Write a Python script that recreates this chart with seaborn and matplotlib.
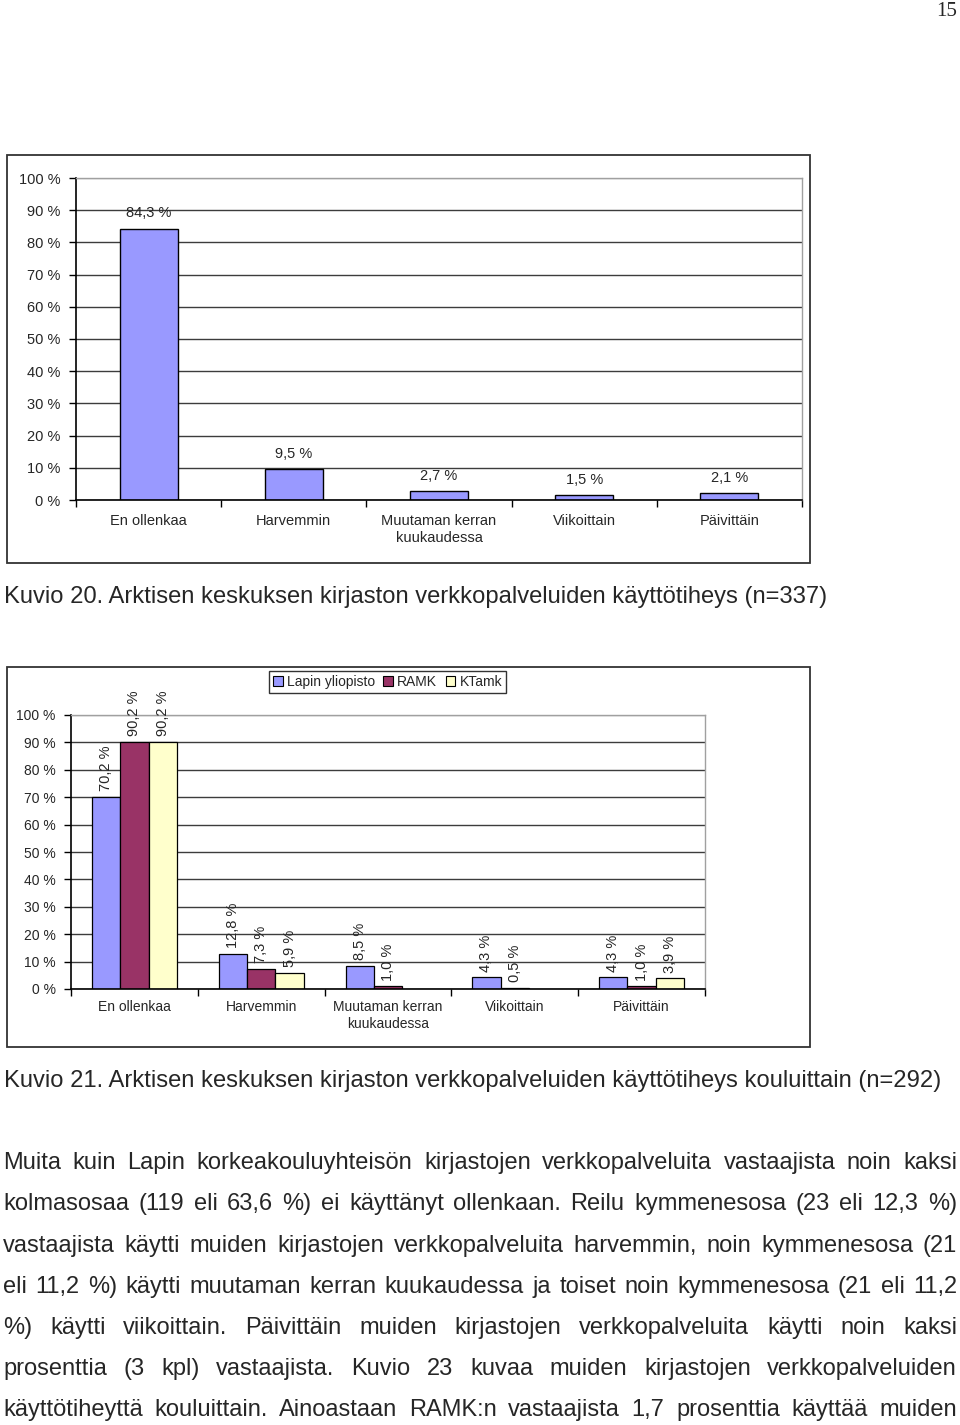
import numpy as np
import pandas as pd
import matplotlib
matplotlib.use("Agg")
import matplotlib.pyplot as plt
import seaborn as sns
from matplotlib.patches import Rectangle

W, H = 960, 1425

# Kuvio 20 - all respondents
freq_labels = ["En ollenkaa", "Harvemmin", "Muutaman kerran\nkuukaudessa", "Viikoittain", "Päivittäin"]
total_pct = [84.3, 9.5, 2.7, 1.5, 2.1]

# Kuvio 21 - by school
schools = ["Lapin yliopisto", "RAMK", "KTamk"]
lapin_pct = [70.2, 12.8, 8.5, 4.3, 4.3]
ramk_pct = [90.2, 7.3, 1.0, 0.5, 1.0]
ktamk_pct = [90.2, 5.9, np.nan, np.nan, 3.9]
school_colors = ["#9999FF", "#993366", "#FFFFCC"]

y_ticks = list(range(0, 101, 10))

caption_20 = "Kuvio 20. Arktisen keskuksen kirjaston verkkopalveluiden käyttötiheys (n=337)"
caption_21 = "Kuvio 21. Arktisen keskuksen kirjaston verkkopalveluiden käyttötiheys kouluittain (n=292)"
paragraph = [
    "Muita kuin Lapin korkeakouluyhteisön kirjastojen verkkopalveluita vastaajista noin kaksi",
    "kolmasosaa (119 eli 63,6 %) ei käyttänyt ollenkaan. Reilu kymmenesosa (23 eli 12,3 %)",
    "vastaajista käytti muiden kirjastojen verkkopalveluita harvemmin, noin kymmenesosa (21",
    "eli 11,2 %) käytti muutaman kerran kuukaudessa ja toiset noin kymmenesosa (21 eli 11,2",
    "%) käytti viikoittain. Päivittäin muiden kirjastojen verkkopalveluita käytti noin kaksi",
    "prosenttia (3 kpl) vastaajista.  Kuvio 23 kuvaa muiden kirjastojen verkkopalveluiden",
    "käyttötiheyttä kouluittain. Ainoastaan RAMK:n vastaajista 1,7 prosenttia käyttää muiden",
]


def fx(px):
    return px / W


def fy(py):
    return 1 - py / H


def pct(v):
    return f"{v:.1f}".replace(".", ",") + " %"


def style_axes(ax, fs, ypad, xpad):
    ax.set_ylim(0, 100)
    ax.set_yticks(y_ticks)
    ax.set_yticklabels([f"{t} %" for t in y_ticks], fontsize=fs)
    ax.set_xlim(-0.5, len(freq_labels) - 0.5)
    ax.set_xticks(range(len(freq_labels)))
    ax.set_xticklabels(freq_labels, fontsize=fs, linespacing=1.3)
    ax.set_xticks(np.arange(-0.5, len(freq_labels)), minor=True)
    ax.tick_params(axis="x", which="major", length=0, pad=xpad)
    ax.tick_params(axis="x", which="minor", length=5, width=1, color="black")
    ax.tick_params(axis="y", length=5, width=1, color="black", pad=ypad)
    ax.yaxis.grid(True, color="#3c3c3c", lw=1)
    ax.yaxis.get_gridlines()[-1].set_color("#a0a0a0")
    ax.set_axisbelow(True)
    for s in ["left", "bottom"]:
        ax.spines[s].set_color("black")
        ax.spines[s].set_linewidth(1.2)
    for s in ["top", "right"]:
        ax.spines[s].set_visible(True)
        ax.spines[s].set_color("#a0a0a0")
        ax.spines[s].set_linewidth(1)
    ax.set_xlabel("")
    ax.set_ylabel("")


def justify(fig, text, py, x0, x1, fs):
    # place words one by one so the line fills x0..x1 (justified)
    words = text.split()
    r = fig.canvas.get_renderer()
    objs = [fig.text(0, fy(py), w, fontsize=fs, va="baseline", ha="left") for w in words]
    widths = [o.get_window_extent(renderer=r).width for o in objs]
    gap = (x1 - x0 - sum(widths)) / (len(words) - 1)
    x = x0
    for o, w in zip(objs, widths):
        o.set_x(fx(x))
        x += w + gap


sns.set_theme(style="ticks")
plt.rcParams["font.family"] = ["Liberation Sans", "DejaVu Sans"]

fig = plt.figure(figsize=(W / 100, H / 100), dpi=100)
fig.patch.set_facecolor("white")

# --- Kuvio 20 ---
ax1 = fig.add_axes([fx(76), fy(500), fx(802) - fx(76), (500 - 178) / H])
df1 = pd.DataFrame({"kategoria": freq_labels, "osuus": total_pct})
sns.barplot(data=df1, x="kategoria", y="osuus", order=freq_labels, color="#9999FF",
            saturation=1, width=0.4, edgecolor="black", linewidth=1, ax=ax1)
style_axes(ax1, 10.5, 6, 10)
for c in ax1.containers:
    ax1.bar_label(c, labels=[pct(v) for v in c.datavalues], padding=6, fontsize=10.5)

# --- Kuvio 21 ---
ax2 = fig.add_axes([fx(71), fy(989), fx(705) - fx(71), (989 - 715) / H])
df2 = pd.DataFrame({
    "kategoria": freq_labels * 3,
    "koulu": np.repeat(schools, len(freq_labels)),
    "osuus": lapin_pct + ramk_pct + ktamk_pct,
}).dropna()
sns.barplot(data=df2, x="kategoria", y="osuus", hue="koulu", order=freq_labels,
            hue_order=schools, palette=school_colors, saturation=1, width=0.67,
            edgecolor="black", linewidth=0.9, errorbar=None, ax=ax2)
style_axes(ax2, 10, 6, 8)
for c in ax2.containers:
    ax2.bar_label(c, labels=[pct(v) for v in c.datavalues], padding=4,
                  fontsize=10.5, rotation=90)
sns.move_legend(ax2, loc="center", bbox_to_anchor=(fx(387.5), fy(682)),
                bbox_transform=fig.transFigure, ncol=3, title=None, frameon=True,
                fontsize=10, handlelength=0.7, handleheight=0.7, handletextpad=0.3,
                columnspacing=0.6, borderpad=0.3, fancybox=False)
leg = ax2.get_legend()
leg.get_frame().set_edgecolor("black")
leg.get_frame().set_linewidth(1)
for h in leg.legend_handles:
    h.set_edgecolor("black")
    h.set_linewidth(0.8)

# frames around charts
for top, bottom in [(155, 563), (667, 1047)]:
    fig.add_artist(Rectangle((fx(7), fy(bottom)), fx(810) - fx(7), (bottom - top) / H,
                             transform=fig.transFigure, fill=False,
                             edgecolor="#333333", lw=1.3))

# page text
fig.text(fx(957), fy(12), "15", ha="right", va="center", fontsize=15,
         family=["Liberation Serif", "DejaVu Serif"])
fig.text(fx(4), fy(597), caption_20, ha="left", va="center", fontsize=17.1)
fig.text(fx(4), fy(1081), caption_21, ha="left", va="center", fontsize=17.1)
line_y = [1169, 1210, 1252, 1293, 1334, 1375, 1416]
for line, py in zip(paragraph, line_y):
    justify(fig, line, py, 3, 957, 17)

fig.savefig("out.png", dpi=100)
plt.close(fig)
